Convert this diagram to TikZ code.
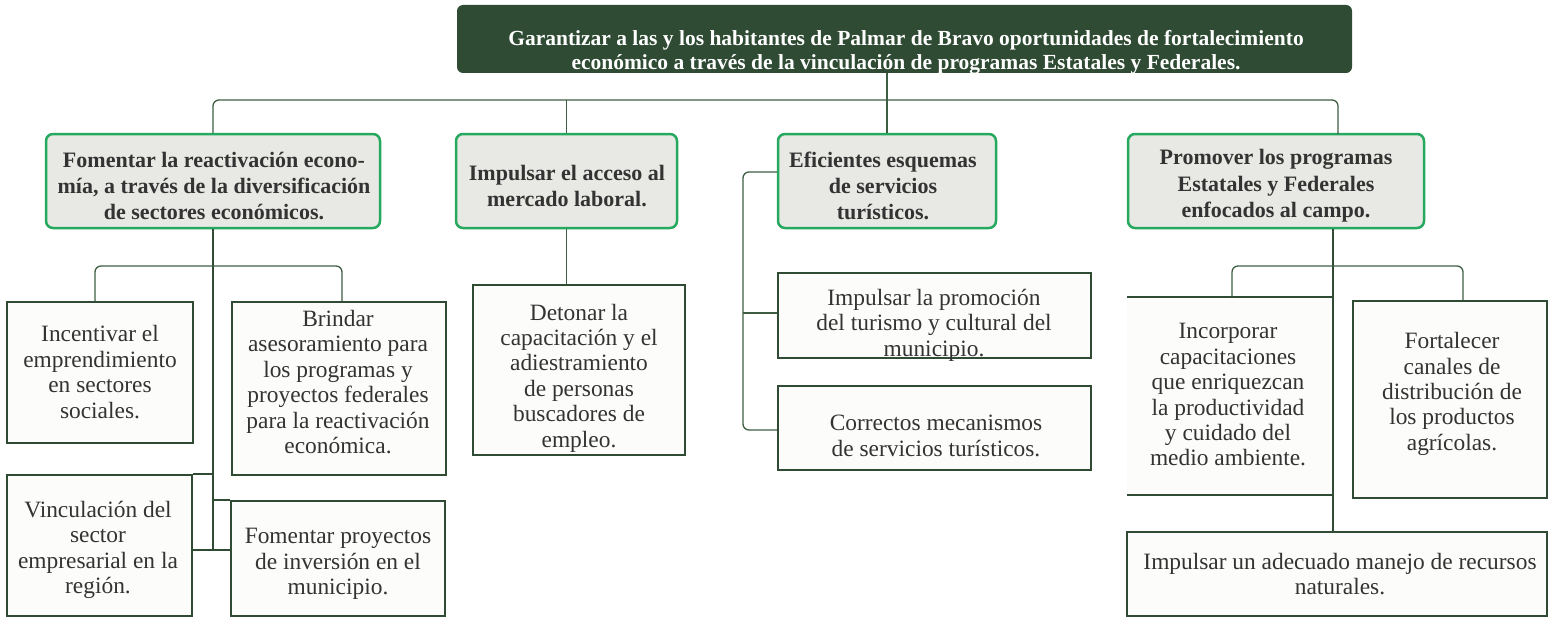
\documentclass[tikz,border=0pt]{standalone}
\usepackage{fontspec}
\setmainfont{Liberation Serif}
\usetikzlibrary{calc}
\definecolor{dkg}{HTML}{2F4B33}
\definecolor{lg}{HTML}{24A95E}
\definecolor{lfill}{HTML}{E8E8E4}
\definecolor{txt}{HTML}{333333}
\definecolor{conn}{HTML}{3E5E44}
\definecolor{leaffill}{HTML}{FCFCFB}
\tikzset{
 topbox/.style={fill=dkg, rounded corners=6pt, inner sep=0pt},
 toptext/.style={text=white, font=\fontsize{21.5}{24}\selectfont\bfseries, align=center, inner sep=0pt},
 lvl/.style={fill=lfill, draw=lg, line width=2.5pt, rounded corners=7pt, inner sep=0pt},
 lvltext/.style={text=txt, font=\fontsize{22}{26.3}\selectfont\bfseries, align=center, inner sep=0pt},
 leaf/.style={fill=leaffill, draw=dkg, line width=2.5pt, inner sep=0pt},
 open/.style={fill=leaffill, inner sep=0pt},
 leaftext/.style={text=txt, font=\fontsize{23.4}{25.4}\selectfont, align=center, inner sep=0pt},
 edge/.style={draw=dkg, line width=2.5pt},
 thin/.style={draw=conn, line width=1.3pt, rounded corners=6pt},
 trunk/.style={draw=dkg, line width=2.5pt},
}
\begin{document}
\begin{tikzpicture}[x=1pt,y=-1pt]
\useasboundingbox (0,0) rectangle (1550,618);
% top
\node[topbox, minimum width=895pt, minimum height=68pt] (top) at (904.5,39) {};
\node[toptext] (toptxt) at (906,52) {Garantizar a las y los habitantes de Palmar de Bravo oportunidades de fortalecimiento\\económico a través de la vinculación de programas Estatales y Federales.};
% level 1 boxes
\node[lvl, minimum width=334pt, minimum height=94pt] (A) at (213,181) {};
\node[lvl, minimum width=221pt, minimum height=94pt] (B) at (566.5,181) {};
\node[lvl, minimum width=218pt, minimum height=94pt] (C) at (887,181) {};
\node[lvl, minimum width=296pt, minimum height=94pt] (D) at (1276,181) {};
\node[lvltext] (At) at (214,186) {Fomentar la reactivación econo-\\mía, a través de la diversificación\\de sectores económicos.};
\node[lvltext] (Bt) at (567,186) {Impulsar el acceso al\\mercado laboral.};
\node[lvltext] (Ct) at (883,186) {Eficientes esquemas\\de servicios\\turísticos.};
\node[lvltext] (Dt) at (1276,186) {Promover los programas\\Estatales y Federales\\enfocados al campo.};
% leaves left
\node[leaf, minimum width=186pt, minimum height=141pt] (a1) at (100,372.5) {};
\node[leaf, minimum width=214pt, minimum height=173pt] (a2) at (339,388.5) {};
\node[leaf, minimum width=185pt, minimum height=141pt] (a3) at (99.5,545.5) {};
\node[leaf, minimum width=214pt, minimum height=115pt] (a4) at (338,558.5) {};
\node[leaftext] (a1t) at (100,372) {Incentivar el\\emprendimiento\\en sectores\\sociales.};
\node[leaftext] (a2t) at (338,382) {Brindar\\asesoramiento para\\los programas y\\proyectos federales\\para la reactivación\\económica.};
\node[leaftext] (a3t) at (98,550) {Vinculación del\\sector\\empresarial en la\\región.};
\node[leaftext] (a4t) at (338,564) {Fomentar proyectos\\de inversión en el\\municipio.};
% B leaf
\node[leaf, minimum width=212pt, minimum height=170pt] (b1) at (579,370) {};
\node[leaftext] (b1t) at (579,378) {Detonar la\\capacitación y el\\adiestramiento\\de personas\\buscadores de\\empleo.};
% C leaves
\node[leaf, minimum width=313pt, minimum height=85pt] (c1) at (934.5,315.5) {};
\node[leaf, minimum width=313pt, minimum height=84pt] (c2) at (934.5,428) {};
\node[leaftext] (c1t) at (934,325) {Impulsar la promoción\\del turismo y cultural del\\municipio.};
\node[leaftext] (c2t) at (936,436) {Correctos mecanismos\\de servicios turísticos.};
% D leaves
\node[open, minimum width=206pt, minimum height=198pt] (d1) at (1230,396) {};
\node[leaf, minimum width=194pt, minimum height=197pt] (d2) at (1450,399.5) {};
\node[leaf, minimum width=420pt, minimum height=84pt] (d3) at (1337,574) {};
\node[leaftext] (d1t) at (1228,395) {Incorporar\\capacitaciones\\que enriquezcan\\la productividad\\y cuidado del\\medio ambiente.};
\node[leaftext] (d2t) at (1452,394) {Fortalecer\\canales de\\distribución de\\los productos\\agrícolas.};
\node[leaftext] (d3t) at (1340,574) {Impulsar un adecuado manejo de recursos\\naturales.};
% coordinates
\coordinate (bus) at (0,100);
\coordinate (dDrop) at (1338,134);
\coordinate (jA) at (213,550);
\coordinate (brA1) at (95,266);
\coordinate (brA2) at (342,266);
\coordinate (cTop) at (743,172);
\coordinate (cBot) at (743,430);
\coordinate (cMid) at (743,313);
\coordinate (dv) at (1333,0);
\coordinate (brD1) at (1232,266);
\coordinate (brD2) at (1463,266);
% connectors top
\draw[thin] (top.south -| C.north) -- (C.north);
\draw[thin] (A.north) -- (A.north |- bus) -- (dDrop |- bus) -- (dDrop);
\draw[thin] (B.north) -- (B.north |- bus);
% left subtree
\draw[trunk] (A.south) -- (jA);
\draw[thin] (a1.north -| brA1) -- (brA1) -- (brA2) -- (a2.north -| brA2);
\draw[edge] (a3.north east) -- (a3.north east -| jA);
\draw[edge] (a4.north west) -- (a4.north west -| jA);
\draw[edge] (a3.east |- jA) -- (a4.west |- jA);
% B subtree
\draw[thin] (B.south) -- (B.south |- b1.north);
% C subtree
\draw[thin] (C.west |- cTop) -- (cTop) -- (cBot) -- (c2.west |- cBot);
\draw[thin] (cMid) -- (c1.west |- cMid);
% D subtree
\draw[trunk] (D.south -| dv) -- (d3.north -| dv);
\draw[edge] (d1.north west) -- (d1.north east);
\draw[edge] (d1.south west) -- (d1.south east);
\draw[thin] (d1.north -| brD1) -- (brD1) -- (brD2) -- (d2.north -| brD2);
\end{tikzpicture}
\end{document}
